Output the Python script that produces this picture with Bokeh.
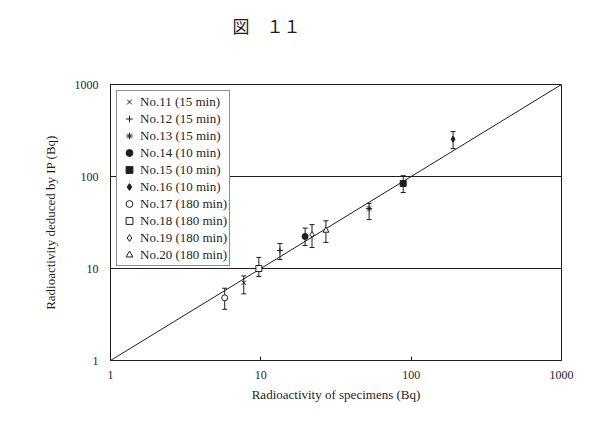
from bokeh.plotting import figure
from bokeh.models import (ColumnDataSource, Whisker, TeeHead, FixedTicker,
                          Legend, LegendItem, Title)
from bokeh.embed import file_html
from bokeh.resources import INLINE

# Specimen data: measured activity vs activity deduced from the imaging plate
labels = ["No.11 (15 min)", "No.12 (15 min)", "No.13 (15 min)",
          "No.14 (10 min)", "No.15 (10 min)", "No.16 (10 min)",
          "No.17 (180 min)", "No.18 (180 min)", "No.19 (180 min)",
          "No.20 (180 min)"]
markers = ["x", "cross", "asterisk", "circle", "square", "diamond",
           "circle", "square", "diamond", "triangle"]
filled = [False, False, False, True, True, True, False, False, False, False]
specimen_bq = [7.7, 13.4, 52.5, 19.7, 88.5, 190.0, 5.75, 9.7, 21.9, 27.1]
deduced_bq = [7.0, 15.7, 44.9, 22.3, 84.0, 255.0, 4.8, 10.0, 23.4, 25.9]
deduced_low = [5.3, 12.5, 34.0, 17.8, 67.0, 201.0, 3.6, 8.2, 16.9, 19.2]
deduced_high = [8.3, 18.7, 51.0, 27.5, 102.0, 308.0, 6.1, 13.2, 30.0, 33.0]

identity = [1, 1000]
axis_ticks = [1, 10, 100, 1000]
grid_ticks = [10, 100]

INK = "#1e1e1e"
SERIF = "Liberation Serif"

p = figure(width=605, height=432, x_axis_type="log", y_axis_type="log",
           x_range=(1, 1000), y_range=(1, 1000),
           output_backend="svg", toolbar_location=None,
           min_border_left=110, min_border_right=44,
           min_border_top=84, min_border_bottom=72)

# caption in the main title; a blank title beneath it pushes it upward
p.title.text = "図　１１"
p.title.align = "left"
p.title.offset = 122
p.title.text_font = "Noto Sans CJK JP"
p.title.text_font_size = "17px"
p.title.text_font_style = "normal"
p.title.text_color = INK
p.title.standoff = 4
p.add_layout(Title(text=" ", text_font_size="1px", standoff=42), "above")

p.outline_line_color = INK
p.outline_line_width = 1

p.xgrid.visible = False
p.ygrid.ticker = FixedTicker(ticks=grid_ticks)
p.ygrid.grid_line_color = INK
p.ygrid.grid_line_width = 1

overrides = {t: str(t) for t in axis_ticks}
for ax in (p.xaxis[0], p.yaxis[0]):
    ax.ticker = FixedTicker(ticks=axis_ticks)
    ax.major_label_overrides = overrides
    ax.major_label_text_font = SERIF
    ax.major_label_text_font_size = "12px"
    ax.major_label_text_color = INK
    ax.axis_label_text_font = SERIF
    ax.axis_label_text_font_size = "13px"
    ax.axis_label_text_font_style = "normal"
    ax.axis_label_text_color = INK
    ax.axis_line_color = INK
    ax.major_tick_line_color = INK
    ax.major_tick_in = 4
    ax.major_tick_out = 0
    ax.minor_tick_line_color = None

p.xaxis.axis_label = "Radioactivity of specimens (Bq)"
p.yaxis.axis_label = "Radioactivity deduced by IP (Bq)"
p.xaxis.major_label_standoff = 10
p.xaxis.axis_label_standoff = 5
p.yaxis.major_label_standoff = 12
p.yaxis.axis_label_standoff = 14

# y = x reference line
p.line(identity, identity, line_color=INK, line_width=1)

items = []
for i, lab in enumerate(labels):
    src = ColumnDataSource(dict(x=[specimen_bq[i]], y=[deduced_bq[i]],
                                lo=[deduced_low[i]], hi=[deduced_high[i]]))
    p.add_layout(Whisker(base="x", lower="lo", upper="hi", source=src,
                         line_color=INK, line_width=1,
                         lower_head=TeeHead(size=5, line_color=INK),
                         upper_head=TeeHead(size=5, line_color=INK)))
    r = p.scatter("x", "y", source=src, marker=markers[i], size=6,
                  line_color=INK, line_width=1,
                  fill_color=INK if filled[i] else "white")
    items.append(LegendItem(label=lab, renderers=[r]))

legend = Legend(items=items, location="top_left", margin=6,
                padding=2, spacing=0, glyph_height=17, glyph_width=20,
                label_height=17, label_standoff=1,
                label_text_font=SERIF, label_text_font_size="13px",
                label_text_color=INK,
                border_line_color=INK, border_line_width=1,
                background_fill_color="white", background_fill_alpha=1)
p.add_layout(legend)

open("out.html", "w").write(file_html(p, INLINE))
